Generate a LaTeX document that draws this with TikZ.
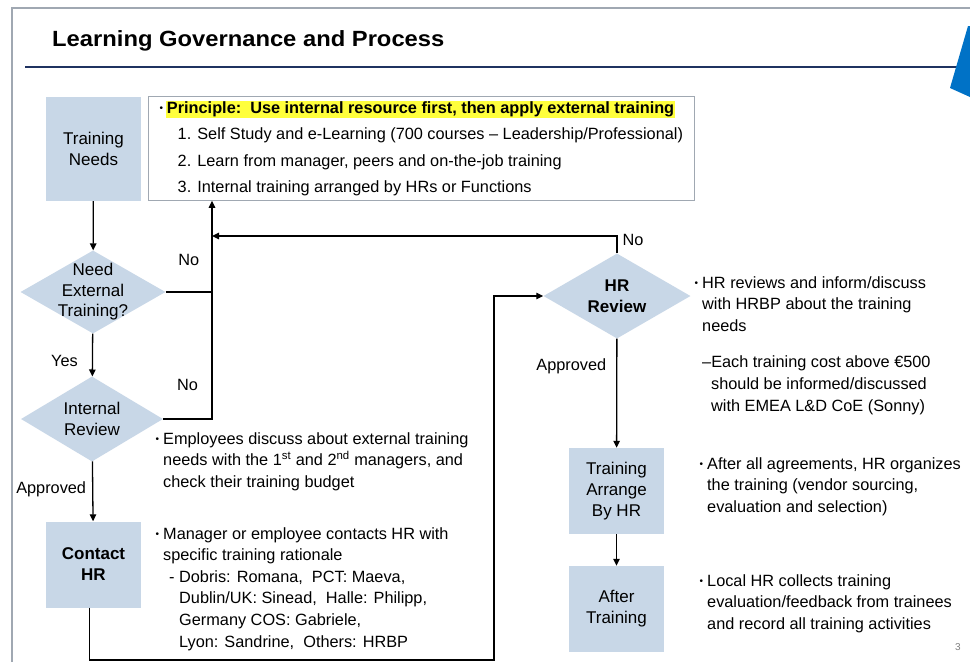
\documentclass[tikz,border=0pt]{standalone}
\usepackage{fontspec}
\setmainfont{Liberation Sans}
\newfontfamily\headfont[FakeStretch=1.08]{Liberation Sans}
\usetikzlibrary{arrows.meta,shapes.geometric}

\definecolor{boxblue}{RGB}{200,215,231}
\definecolor{navy}{RGB}{31,50,96}
\definecolor{slideblue}{RGB}{0,114,198}
\definecolor{framegray}{RGB}{160,168,178}
\definecolor{hilite}{RGB}{255,255,60}

\newcommand{\bul}{\raisebox{1.5pt}{\fontsize{10}{10}\selectfont\textbullet}}

\begin{document}
\begin{tikzpicture}[
  x=1pt, y=-1pt,
  stage/.style={fill=boxblue, minimum width=95pt, minimum height=86pt,
                align=center, font=\fontsize{17}{21}\selectfont},
  check/.style={diamond, fill=boxblue, inner sep=0pt},
  checktext/.style={align=center, font=\fontsize{17}{20.5}\selectfont},
  note/.style={anchor=north west, inner sep=0pt, align=left,
               font=\fontsize{16.3}{21.6}\selectfont},
  lbl/.style={inner sep=0pt, font=\fontsize{16.3}{19}\selectfont},
  every edge/.style={draw, line width=1.3pt, -{Triangle[length=7pt,width=6.5pt]}},
  arr/.style={line width=1.3pt, -{Triangle[length=7pt,width=6.5pt]}}
]
  \useasboundingbox (0,0) rectangle (970,662);
  \fill[white] (0,0) rectangle (970,662);

  % slide frame, title and rule
  \draw[framegray, line width=1.2pt] (12,662) -- (12,8) -- (970,8);
  \node[anchor=west, inner sep=0pt, font=\headfont\bfseries\fontsize{22}{26}\selectfont]
    (title) at (52,41) {Learning Governance and Process};
  \draw[navy, line width=2pt] (25,67) -- (957,67);
  \fill[slideblue] (968,26) -- (950,88) -- (970,97) -- (970,26) -- cycle;

  % process steps
  \node[stage, minimum height=104pt] (needs) at (93.5,149) {Training\\Needs};
  \node[check, minimum width=145pt, minimum height=83pt,
        label={[checktext]center:Need\\External\\Training?}] (need) at (93,292) {};
  \node[check, minimum width=142pt, minimum height=85pt,
        label={[checktext]center:Internal\\Review}] (rev) at (92,419) {};
  \node[stage, font=\fontsize{17}{21}\selectfont\bfseries] (contact) at (93.5,564.5) {Contact\\HR};
  \node[check, minimum width=147pt, minimum height=85pt,
        label={[checktext, font=\fontsize{17}{20.5}\selectfont\bfseries]center:HR\\Review}] (hrrev) at (617,296) {};
  \node[stage] (arrange) at (616.5,491) {Training\\Arrange\\By HR};
  \node[stage] (after) at (616.5,609) {After\\Training};

  \node[draw=framegray, line width=0.8pt, anchor=north west, minimum width=546pt,
        minimum height=104pt, inner xsep=1pt, inner ysep=0pt, align=left,
        font=\fontsize{16.3}{26.5}\selectfont] (rule) at (148,96)
    {\bul\,{\setlength{\fboxsep}{1pt}\colorbox{hilite}{\textbf{Principle:\ \ Use internal resource first, then apply external training}}}\\
     \hspace*{18pt}1. Self Study and e-Learning (700 courses -- Leadership/Professional)\\
     \hspace*{18pt}2. Learn from manager, peers and on-the-job training\\
     \hspace*{18pt}3. Internal training arranged by HRs or Functions};

  \coordinate (jn) at (212,236);
  \coordinate (lp) at (494,660);

  % connectors
  \draw (needs) edge (need);
  \draw (need) edge node[lbl, pos=0.63, left=14pt] {Yes} (rev);
  \draw (rev) edge node[lbl, pos=0.46, left=6pt] {Approved} (contact);
  \draw (hrrev) edge node[lbl, pos=0.25, left=10pt] {Approved} (arrange);
  \draw (arrange) edge (after);

  \draw[line width=1.3pt] (need.east) -- (need.east -| jn)
    node[lbl, midway, above=26pt] {No};
  \draw[arr] (rev.east) -| (rule.south -| jn)
    node[lbl, pos=0.25, above=28pt] {No};
  \draw[arr] (hrrev.north) |- (jn)
    node[lbl, pos=0.5, anchor=west, xshift=5pt, yshift=-4pt] {No};
  \draw[arr] ([xshift=-4pt]contact.south) |- (lp) |- (hrrev.west);

  % notes beside the steps
  \node[note] (revnote) at (163,432)
    {\llap{\bul\hspace{4pt}}Employees discuss about external training\\
     needs with the 1\textsuperscript{st} and 2\textsuperscript{nd} managers, and\\
     check their training budget};
  \node[note] (contactnote) at (163,527)
    {\llap{\bul\hspace{4pt}}Manager or employee contacts HR with\\
     specific training rationale\\
     \hspace*{6pt}- Dobris: Romana,\ \ PCT: Maeva,\\
     \hspace*{16pt}Dublin/UK: Sinead,\ \ Halle: Philipp,\\
     \hspace*{16pt}Germany COS: Gabriele,\\
     \hspace*{16pt}Lyon: Sandrine,\ \ Others: HRBP};
  \node[note] (hrnote) at (702,276)
    {\llap{\bul\hspace{4pt}}HR reviews and inform/discuss\\
     with HRBP about the training\\
     needs\\[15pt]
     --Each training cost above €500\\
     \hspace*{9pt}should be informed/discussed\\
     \hspace*{9pt}with EMEA L\&D CoE (Sonny)};
  \node[note] (arrnote) at (707,457)
    {\llap{\bul\hspace{4pt}}After all agreements, HR organizes\\
     the training (vendor sourcing,\\
     evaluation and selection)};
  \node[note] (afternote) at (707,574)
    {\llap{\bul\hspace{4pt}}Local HR collects training\\
     evaluation/feedback from trainees\\
     and record all training activities};

  \node[font=\fontsize{10}{12}\selectfont, text=gray] (page) at (958,647) {3};
\end{tikzpicture}
\end{document}
